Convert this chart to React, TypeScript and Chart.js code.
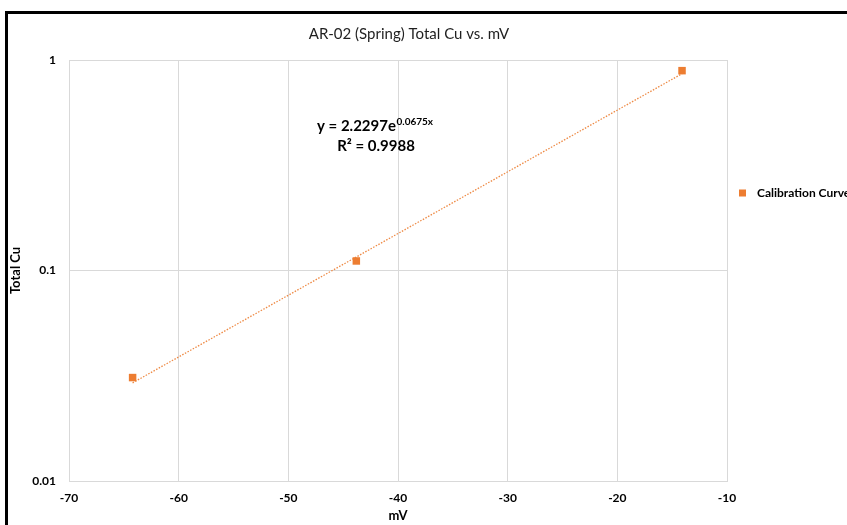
import React, { useEffect, useRef } from 'react';
import { Chart, registerables } from 'chart.js';

Chart.register(...registerables);

// Calibration measurements: electrode reading (mV) vs. total copper
const mV = [-64.2, -43.8, -14.1];
const totalCu = [0.031, 0.111, 0.89];

// Exponential fit y = A·e^(k·x)
const fitA = 2.2297;
const fitK = 0.0675;
const rSquared = 0.9988;

const yTicks = [0.01, 0.1, 1];
const xMin = -70;
const xMax = -10;
const xStep = 10;

const seriesLabel = 'Calibration Curve';
const chartTitle = 'AR-02 (Spring) Total Cu vs. mV';
const xTitle = 'mV';
const yTitle = 'Total Cu';

const ORANGE = '#ED7D31';
const GRID = '#d9d9d9';
const FONT = 'Lato, "Open Sans", sans-serif';

const headerPlugin = {
  id: 'header',
  afterDraw(chart: any) {
    const ctx = chart.ctx;
    ctx.save();
    ctx.fillStyle = '#1f1f1f';
    ctx.font = `15px ${FONT}`;
    ctx.textAlign = 'center';
    ctx.textBaseline = 'middle';
    ctx.fillText(chartTitle, 409, 34);
    ctx.restore();
  },
};

const equationPlugin = {
  id: 'equation',
  afterDraw(chart: any) {
    const ctx = chart.ctx;
    ctx.save();
    ctx.fillStyle = '#000';
    ctx.textBaseline = 'alphabetic';
    ctx.textAlign = 'left';
    const main = `y = ${fitA}e`;
    ctx.font = `bold 15px ${FONT}`;
    const x0 = 317;
    ctx.fillText(main, x0, 131);
    const w = ctx.measureText(main).width;
    ctx.font = `bold 10px ${FONT}`;
    ctx.fillText(`${fitK}x`, x0 + w + 0.5, 125);
    ctx.font = `bold 15px ${FONT}`;
    ctx.textAlign = 'center';
    ctx.fillText(`R² = ${rSquared}`, 376, 151);
    ctx.restore();
  },
};

const legendPlugin = {
  id: 'sideLegend',
  afterDraw(chart: any) {
    const ctx = chart.ctx;
    const ds = chart.data.datasets[0];
    ctx.save();
    ctx.fillStyle = ds.backgroundColor;
    ctx.fillRect(739, 189.5, 7, 7);
    ctx.fillStyle = '#000';
    ctx.font = `bold 12px ${FONT}`;
    ctx.textAlign = 'left';
    ctx.textBaseline = 'middle';
    ctx.fillText(ds.label, 757, 193);
    ctx.restore();
  },
};

export default function App() {
  const canvasRef = useRef<HTMLCanvasElement>(null);

  useEffect(() => {
    document.body.style.margin = '0';
    document.body.style.background = '#fff';
    const canvas = canvasRef.current;
    if (!canvas) return;

    const points = mV.map((x, i) => ({ x, y: totalCu[i] }));
    // An exponential is a straight line on the log axis, so its two ends suffice
    const fitEnds = [mV[0], mV[mV.length - 1]].map((x) => ({
      x,
      y: fitA * Math.exp(fitK * x),
    }));

    const chart = new Chart(canvas, {
      type: 'scatter',
      data: {
        datasets: [
          {
            label: seriesLabel,
            data: points,
            backgroundColor: ORANGE,
            borderColor: ORANGE,
            pointStyle: 'rect',
            pointRadius: 5.3,
            pointBorderWidth: 0,
            order: 0,
          },
          {
            label: 'Trend',
            type: 'line',
            data: fitEnds,
            borderColor: '#EE8A45',
            borderWidth: 1.3,
            borderDash: [1.5, 1.5],
            pointRadius: 0,
            fill: false,
            order: 1,
          } as any,
        ],
      },
      options: {
        animation: false,
        responsive: false,
        maintainAspectRatio: false,
        layout: { padding: { left: 8, top: 60, right: 120, bottom: 0 } },
        plugins: {
          legend: { display: false },
          title: { display: false },
          tooltip: { enabled: false },
        },
        scales: {
          x: {
            type: 'linear',
            min: xMin,
            max: xMax,
            ticks: {
              stepSize: xStep,
              padding: 10,
              color: '#000',
              font: { family: FONT, size: 12, weight: 'bold' },
            },
            grid: { color: GRID, drawTicks: false },
            border: { color: GRID },
            title: {
              display: true,
              text: xTitle,
              color: '#000',
              font: { family: FONT, size: 13, weight: 'bold' },
              padding: { top: 0, bottom: 1 },
            },
            afterFit(scale: any) {
              scale.height = 44;
            },
          },
          y: {
            type: 'logarithmic',
            min: yTicks[0],
            max: yTicks[yTicks.length - 1],
            afterBuildTicks(axis: any) {
              axis.ticks = yTicks.map((v) => ({ value: v }));
            },
            ticks: {
              padding: 13,
              color: '#000',
              font: { family: FONT, size: 12, weight: 'bold' },
              callback: (v: any) => String(v),
            },
            grid: { color: GRID, drawTicks: false },
            border: { color: GRID },
            title: {
              display: true,
              text: yTitle,
              color: '#000',
              font: { family: FONT, size: 13, weight: 'bold' },
              padding: 0,
            },
            afterFit(scale: any) {
              scale.width = 61;
            },
          },
        },
      },
      plugins: [headerPlugin, equationPlugin, legendPlugin],
    });

    return () => chart.destroy();
  }, []);

  return (
    <div
      style={{
        position: 'relative',
        width: 847,
        height: 525,
        overflow: 'hidden',
        background: '#fff',
      }}
    >
      <div
        style={{
          position: 'absolute',
          left: 5,
          top: 11,
          width: 900,
          height: 600,
          border: '3px solid #000',
        }}
      />
      <canvas
        ref={canvasRef}
        width={847}
        height={525}
        style={{ position: 'absolute', left: 0, top: 0 }}
      />
    </div>
  );
}
